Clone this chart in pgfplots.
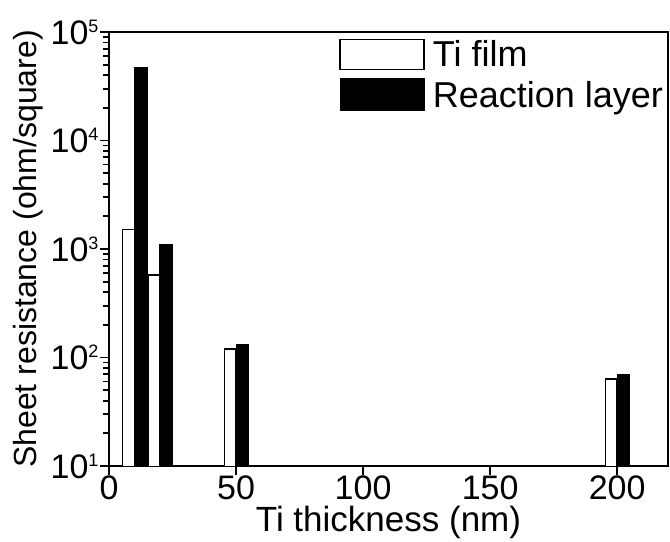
\documentclass[border=0pt]{standalone}
\usepackage{fontspec}
\setmainfont{Liberation Sans}
\usepackage{pgfplots}
\pgfplotsset{compat=1.18}
\newcommand\tl[1]{10\raisebox{12pt}{\fontsize{18}{18}\selectfont #1}}
\begin{document}
\begin{tikzpicture}
\begin{axis}[
  name=ax,
  scale only axis, width=559pt, height=434pt,
  ymode=log, ymin=10, ymax=1e5, xmin=0, xmax=220,
  xtick={0,50,100,150,200},
  ytick={10,100,1000,10000,100000},
  yticklabels={\tl{1},\tl{2},\tl{3},\tl{4},\tl{5}},
  /pgf/number format/assume math mode=true,
  ticklabel style={font=\fontsize{34}{34}\selectfont},
  tick align=outside, xtick pos=bottom, ytick pos=left,
  major tick length=9pt, minor tick length=6pt,
  axis line style={line width=2.5pt},
  every tick/.style={black, line width=1.8pt},
  xticklabel style={yshift=3pt},
  yticklabel style={xshift=2pt},
  xlabel={Ti thickness (nm)},
  ylabel={Sheet resistance (ohm/square)},
  xlabel style={font=\fontsize{35}{35}\selectfont, at={(axis description cs:0.5,-0.13)}, anchor=center},
  ylabel style={font=\fontsize{32}{32}\selectfont, at={(axis description cs:-0.145,0.5)}, anchor=center},
  legend style={draw=none, fill=none, at={(0.995,0.985)}, anchor=north east,
    font=\fontsize{36}{36}\selectfont, row sep=8pt, column sep=6pt, inner sep=0pt},
  legend cell align=left,
]
\addplot[ybar, bar width=4.6, bar shift=-2.3, fill=white, draw=black, line width=1.5pt,
  legend image code/.code={\draw[fill=white, draw=black, line width=1.5pt] (0pt,-15pt) rectangle (84pt,15pt);}]
  coordinates {(10,1520) (20,573) (50,120) (200,63.4)};
\addlegendentry{Ti film}
\addplot[ybar, bar width=5, bar shift=2.5, fill=black, draw=black, line width=1pt,
  legend image code/.code={\draw[fill=black, draw=black, line width=1pt] (0pt,-16pt) rectangle (84pt,16pt);}]
  coordinates {(10,47300) (20,1105) (50,133) (200,70)};
\addlegendentry{Reaction layer}
\end{axis}
\pgfresetboundingbox
\path[use as bounding box] ([shift={(-109pt,-76pt)}]ax.south west) rectangle ([shift={(2pt,32pt)}]ax.north east);
\end{tikzpicture}
\end{document}
